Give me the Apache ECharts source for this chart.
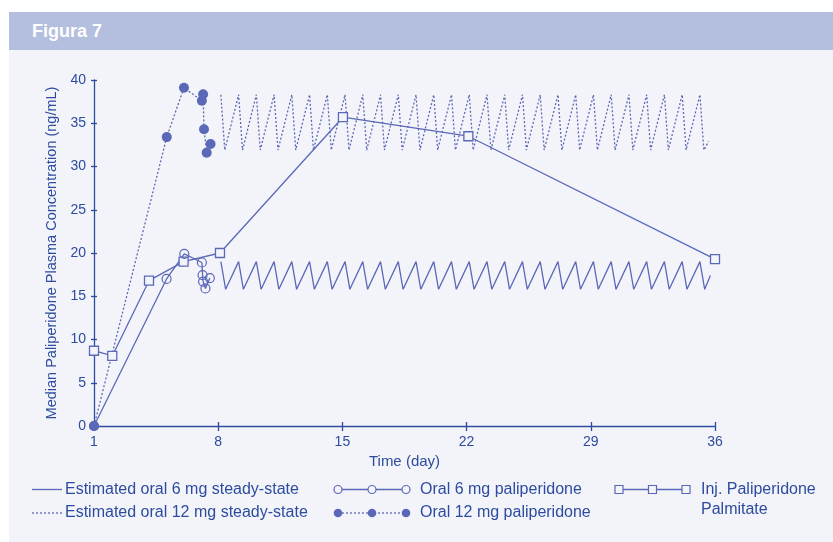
<!DOCTYPE html>
<html>
<head>
<meta charset="utf-8">
<script src="https://cdn.jsdelivr.net/npm/echarts@6/dist/echarts.min.js"></script>
<style>
  html, body { margin: 0; padding: 0; background: #ffffff; }
  #wrap { position: relative; width: 833px; height: 542px; overflow: hidden; }
  #head { position: absolute; left: 9px; top: 12px; width: 824px; height: 38px; background: #b4bfe0; }
  #head span { position: absolute; left: 23px; top: 9px; font: bold 18px "Liberation Sans", Arial, sans-serif; color: #ffffff; }
  #panel { position: absolute; left: 9px; top: 50px; width: 824px; height: 492px; background: #f3f4f9; }
  #main { position: absolute; left: 0; top: 0; width: 833px; height: 542px; }
</style>
</head>
<body>
<div id="wrap">
  <div id="head"><span>Figura 7</span></div>
  <div id="panel"></div>
  <!--chart container-->
  <div id="main"></div>
</div>
<script>
// oral 6 mg paliperidone (open circles)
const oral6 = [[1, 0], [5.09, 17.0], [6.09, 19.9], [7.08, 18.9], [7.12, 17.45], [7.15, 16.7], [7.28, 15.9], [7.53, 17.1]];
// oral 12 mg paliperidone (filled circles)
const oral12 = [[1, 0], [5.1, 33.4], [6.07, 39.1], [7.08, 37.6], [7.15, 38.35], [7.2, 34.3], [7.35, 31.6], [7.57, 32.6]];
// inj. paliperidone palmitate (squares)
const inj = [[1, 8.7], [2.03, 8.1], [4.1, 16.8], [6.05, 19.0], [8.1, 20.0], [15.03, 35.7], [22.1, 33.5], [36, 19.3]];
// estimated oral 6 mg steady-state
const steady6 = [
  [8.15, 19.0], [8.42, 15.8], [9.15, 19.0], [9.42, 15.8], [10.15, 19.0], [10.42, 15.8],
  [11.15, 19.0], [11.42, 15.8], [12.15, 19.0], [12.42, 15.8], [13.15, 19.0], [13.42, 15.8],
  [14.15, 19.0], [14.42, 15.8], [15.15, 19.0], [15.42, 15.8], [16.15, 19.0], [16.42, 15.8],
  [17.15, 19.0], [17.42, 15.8], [18.15, 19.0], [18.42, 15.8], [19.15, 19.0], [19.42, 15.8],
  [20.15, 19.0], [20.42, 15.8], [21.15, 19.0], [21.42, 15.8], [22.15, 19.0], [22.42, 15.8],
  [23.15, 19.0], [23.42, 15.8], [24.15, 19.0], [24.42, 15.8], [25.15, 19.0], [25.42, 15.8],
  [26.15, 19.0], [26.42, 15.8], [27.15, 19.0], [27.42, 15.8], [28.15, 19.0], [28.42, 15.8],
  [29.15, 19.0], [29.42, 15.8], [30.15, 19.0], [30.42, 15.8], [31.15, 19.0], [31.42, 15.8],
  [32.15, 19.0], [32.42, 15.8], [33.15, 19.0], [33.42, 15.8], [34.15, 19.0], [34.42, 15.8],
  [35.15, 19.0], [35.42, 15.8], [35.74, 17.4]
];
// estimated oral 12 mg steady-state
const steady12 = [
  [8.15, 38.3], [8.37, 31.9], [9.15, 38.3], [9.37, 31.9], [10.15, 38.3], [10.37, 31.9],
  [11.15, 38.3], [11.37, 31.9], [12.15, 38.3], [12.37, 31.9], [13.15, 38.3], [13.37, 31.9],
  [14.15, 38.3], [14.37, 31.9], [15.15, 38.3], [15.37, 31.9], [16.15, 38.3], [16.37, 31.9],
  [17.15, 38.3], [17.37, 31.9], [18.15, 38.3], [18.37, 31.9], [19.15, 38.3], [19.37, 31.9],
  [20.15, 38.3], [20.37, 31.9], [21.15, 38.3], [21.37, 31.9], [22.15, 38.3], [22.37, 31.9],
  [23.15, 38.3], [23.37, 31.9], [24.15, 38.3], [24.37, 31.9], [25.15, 38.3], [25.37, 31.9],
  [26.15, 38.3], [26.37, 31.9], [27.15, 38.3], [27.37, 31.9], [28.15, 38.3], [28.37, 31.9],
  [29.15, 38.3], [29.37, 31.9], [30.15, 38.3], [30.37, 31.9], [31.15, 38.3], [31.37, 31.9],
  [32.15, 38.3], [32.37, 31.9], [33.15, 38.3], [33.37, 31.9], [34.15, 38.3], [34.37, 31.9],
  [35.15, 38.3], [35.37, 31.9], [35.64, 32.9]
];
const legendNames = [
  'Estimated oral 6 mg steady-state',
  'Estimated oral 12 mg steady-state',
  'Oral 6 mg paliperidone',
  'Oral 12 mg paliperidone',
  'Inj. Paliperidone',
  'Palmitate'
];

const lineColor = '#5b68b8';
const axisColor = '#2d4c9f';
const textColor = '#2d4c9f';
const bg = '#f3f4f9';
const font = '"Liberation Sans", Arial, sans-serif';

function xAx(inside) {
  return {
    type: 'value', min: 1, max: 36, interval: 7, position: 'bottom',
    axisLine: { show: !inside, onZero: false, lineStyle: { color: axisColor, width: 1.3 } },
    axisTick: { show: true, inside: inside, length: inside ? 4 : 5, lineStyle: { color: axisColor, width: 1.3 } },
    axisLabel: { show: !inside, color: textColor, fontSize: 14, fontFamily: font, margin: 9 },
    splitLine: { show: false },
    name: inside ? '' : 'Time (day)',
    nameLocation: 'middle', nameGap: 24,
    nameTextStyle: { color: textColor, fontSize: 15, fontFamily: font }
  };
}
function yAx(inside) {
  return {
    type: 'value', min: 0, max: 40, interval: 5, position: 'left',
    axisLine: { show: !inside, lineStyle: { color: axisColor, width: 1.3 } },
    axisTick: { show: true, inside: inside, length: 3, lineStyle: { color: axisColor, width: 1.3 } },
    axisLabel: { show: !inside, color: textColor, fontSize: 14, fontFamily: font, margin: 8 },
    splitLine: { show: false },
    name: inside ? '' : 'Median Paliperidone Plasma Concentration (ng/mL)',
    nameLocation: 'middle', nameGap: 32, nameRotate: 90,
    nameTextStyle: { color: textColor, fontSize: 14.5, fontFamily: font }
  };
}

// legend drawn by hand (three-marker icons)
function legendText(x, y, t) {
  return { type: 'text', x: x, y: y, style: { text: t, fill: textColor, font: '16px ' + font, verticalAlign: 'middle' } };
}
const r1 = 489.5, r2 = 513;
const legendGraphics = [
  { type: 'line', shape: { x1: 32, y1: r1, x2: 62, y2: r1 }, style: { stroke: lineColor, lineWidth: 1.3 } },
  legendText(65, r1, legendNames[0]),
  { type: 'line', shape: { x1: 32, y1: r2, x2: 62, y2: r2 }, style: { stroke: lineColor, lineWidth: 1.3, lineDash: [2, 2] } },
  legendText(65, r2, legendNames[1]),
  { type: 'line', shape: { x1: 338, y1: r1, x2: 406, y2: r1 }, style: { stroke: lineColor, lineWidth: 1.3 } },
  legendText(420, r1, legendNames[2]),
  { type: 'line', shape: { x1: 338, y1: r2, x2: 406, y2: r2 }, style: { stroke: lineColor, lineWidth: 1.3, lineDash: [2, 2] } },
  legendText(420, r2, legendNames[3]),
  { type: 'line', shape: { x1: 619, y1: r1, x2: 686, y2: r1 }, style: { stroke: lineColor, lineWidth: 1.3 } },
  legendText(701, r1, legendNames[4]),
  legendText(701, 510, legendNames[5])
];
[338, 372, 406].forEach(function (cx) {
  legendGraphics.push({ type: 'circle', shape: { cx: cx, cy: r1, r: 4 }, style: { fill: bg, stroke: lineColor, lineWidth: 1.2 } });
  legendGraphics.push({ type: 'circle', shape: { cx: cx, cy: r2, r: 4.3 }, style: { fill: lineColor } });
});
[619, 652.5, 686].forEach(function (cx) {
  legendGraphics.push({ type: 'rect', shape: { x: cx - 4, y: r1 - 4, width: 8, height: 8 }, style: { fill: bg, stroke: lineColor, lineWidth: 1.2 } });
});

const chart = echarts.init(document.getElementById('main'));
chart.setOption({
  backgroundColor: 'transparent',
  animation: false,
  grid: { left: 94, right: 118, top: 80, bottom: 116 },
  xAxis: [xAx(false), xAx(true)],
  yAxis: [yAx(false), yAx(true)],
  graphic: legendGraphics,
  series: [
    {
      name: legendNames[0], type: 'line', data: steady6, symbol: 'none',
      lineStyle: { color: lineColor, width: 1.3 }
    },
    {
      name: legendNames[1], type: 'line', data: steady12, symbol: 'none',
      lineStyle: { color: lineColor, width: 1.3, type: [2, 2] }
    },
    {
      name: legendNames[4], type: 'line', data: inj, symbol: 'rect', symbolSize: 9,
      lineStyle: { color: lineColor, width: 1.3 },
      itemStyle: { color: bg, borderColor: lineColor, borderWidth: 1.3 }
    },
    {
      name: legendNames[2], type: 'line', data: oral6, symbol: 'circle', symbolSize: 9,
      lineStyle: { color: lineColor, width: 1.3 },
      itemStyle: { color: 'rgba(0,0,0,0)', borderColor: lineColor, borderWidth: 1.2 }
    },
    {
      name: legendNames[3], type: 'line', data: oral12, symbol: 'circle', symbolSize: 10,
      lineStyle: { color: lineColor, width: 1.3, type: [2, 2] },
      itemStyle: { color: lineColor }
    }
  ]
});
</script>
</body>
</html>
